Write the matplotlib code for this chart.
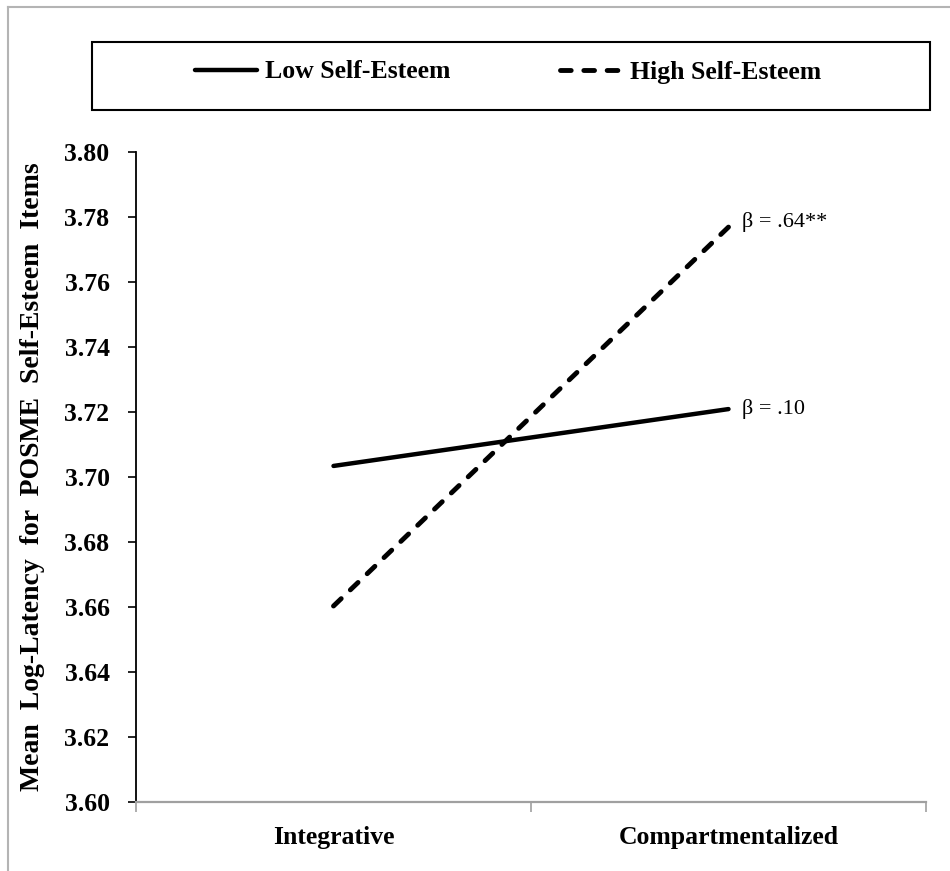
import numpy as np
import matplotlib.pyplot as plt
from matplotlib.patches import Rectangle
from matplotlib.lines import Line2D

plt.rcParams['font.family'] = ['Liberation Serif', 'DejaVu Serif']

categories = ['Integrative', 'Compartmentalized']
low_se = [3.7034, 3.7209]
high_se = [3.6603, 3.7769]
series_names = ['Low Self-Esteem', 'High Self-Esteem']
beta_labels = ['\u03b2 = .10', '\u03b2 = .64**']
yticks = [3.60, 3.62, 3.64, 3.66, 3.68, 3.70, 3.72, 3.74, 3.76, 3.78, 3.80]

W, H = 950, 871
fig = plt.figure(figsize=(W / 100, H / 100), dpi=100)
ax = fig.add_axes([136 / W, 1 - 802 / H, (926 - 136) / W, (802 - 152) / H])

x = np.arange(len(categories)) + 0.5
l1, = ax.plot(x, low_se, color='black', lw=3.2, solid_capstyle='round',
              label=series_names[0])
l2, = ax.plot(x, high_se, color='black', lw=3.5, linestyle=(0, (2.2, 2.6)),
              dash_capstyle='round', label=series_names[1])

# beta annotations at the line ends
ax.annotate(beta_labels[0], (x[-1], low_se[-1]), xytext=(10, 0),
            textcoords='offset points', va='center', ha='left', fontsize=16)
ax.annotate(beta_labels[1], (x[-1], high_se[-1]), xytext=(10, 4),
            textcoords='offset points', va='center', ha='left', fontsize=16)

ax.set_xlim(0, len(categories))
ax.set_ylim(3.60, 3.80)
ax.set_yticks(yticks)
ax.set_yticklabels(['%.2f' % v for v in yticks], fontweight='bold', fontsize=18.5)
ax.tick_params(axis='y', direction='out', length=6, width=1.2, pad=13, colors='black')

ax.set_xticks(np.arange(len(categories) + 1))
ax.set_xticklabels([])
ax.set_xticks(x, minor=True)
ax.set_xticklabels(categories, minor=True, fontweight='bold', fontsize=18.5)
ax.tick_params(axis='x', which='major', direction='out', length=7, width=1.2,
               color='#a0a0a0')
ax.tick_params(axis='x', which='minor', length=0, pad=17)

for s in ['top', 'right']:
    ax.spines[s].set_visible(False)
ax.spines['left'].set_linewidth(1.3)
ax.spines['left'].set_color('black')
ax.spines['bottom'].set_linewidth(1.6)
ax.spines['bottom'].set_color('#a0a0a0')

ax.set_ylabel('Mean  Log-Latency  for  POSME  Self-Esteem  Items',
              fontweight='bold', fontsize=20)
ax.yaxis.set_label_coords((45 - 136) / (926 - 136), 0.5)

# legend box on top
fig.patches.append(Rectangle((92 / W, 1 - 110 / H), (930 - 92) / W, 68 / H,
                             transform=fig.transFigure, fill=False,
                             edgecolor='black', lw=1.5))
fig.legend(handles=[l1, l2], loc='center', bbox_to_anchor=(508 / W, 1 - 72 / H),
           ncol=2, frameon=False, handlelength=2.4, handletextpad=0.3,
           columnspacing=4.3, prop={'weight': 'bold', 'size': 18.5})

# light grey outer frame (top and left edges)
fig.add_artist(Line2D([8 / W, 1], [1 - 7 / H, 1 - 7 / H], transform=fig.transFigure,
                      color='#b4b4b4', lw=1.5))
fig.add_artist(Line2D([8 / W, 8 / W], [0, 1 - 7 / H], transform=fig.transFigure,
                      color='#b4b4b4', lw=1.5))

fig.savefig('out.png', dpi=100)
